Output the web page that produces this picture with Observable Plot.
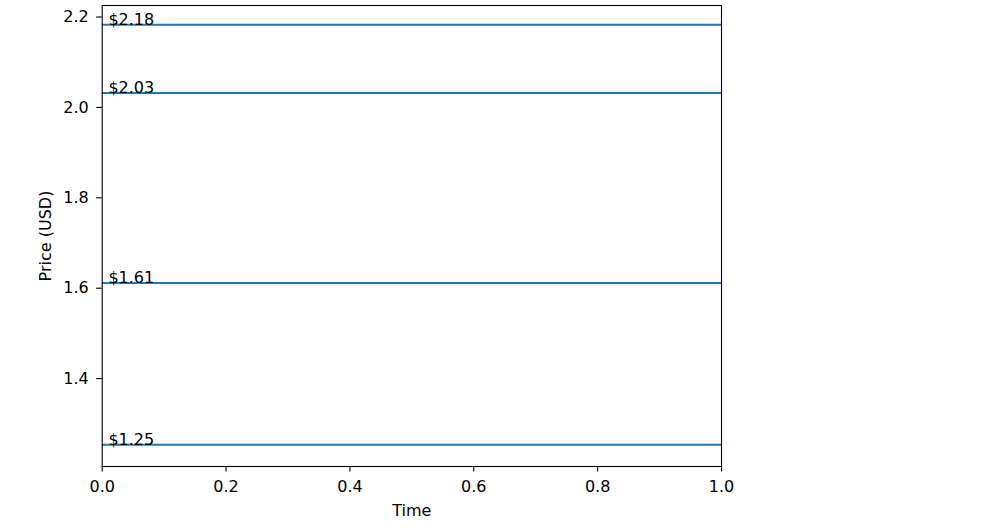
<!DOCTYPE html>
<html><head><meta charset="utf-8">
<script src="https://cdn.jsdelivr.net/npm/d3@7"></script>
<script src="https://cdn.jsdelivr.net/npm/@observablehq/plot@0.6"></script>
<style>body{margin:0;background:#fff;}</style>
</head><body><div id="chart"></div>
<script>
const prices = [2.181, 2.03, 1.61, 1.252];
const priceLabels = prices.map(p => "$" + p.toFixed(2));
const xTicks = [0, 0.2, 0.4, 0.6, 0.8, 1.0];
const yTicks = [1.4, 1.6, 1.8, 2.0, 2.2];
const xDomain = [0, 1];
const yDomain = [1.2038, 2.2237];
const xLabel = "Time";
const yLabel = "Price (USD)";
const labelX = 0.01;

const chart = Plot.plot({
  width: 1000,
  height: 531,
  marginLeft: 101.7,
  marginRight: 279,
  marginTop: 5,
  marginBottom: 65,
  style: {fontFamily: "DejaVu Sans", fontSize: "16px", background: "#fff", color: "#000", overflow: "visible"},
  x: {domain: xDomain},
  y: {domain: yDomain},
  marks: [
    Plot.ruleY(prices, {y: d => d, stroke: "#1f77b4", strokeWidth: 2}),
    Plot.text(prices, {x: labelX, y: d => d, text: (d, i) => priceLabels[i], textAnchor: "start", lineAnchor: "bottom", fill: "#000"}),
    Plot.frame({stroke: "#000", strokeWidth: 1.1}),
    Plot.axisX({ticks: xTicks, tickFormat: d => d.toFixed(1), tickSize: 5.5, tickPadding: 8.8, label: null, strokeWidth: 1.1}),
    Plot.axisY({ticks: yTicks, tickFormat: d => d.toFixed(1), tickSize: 5.5, tickPadding: 7.9, label: null, strokeWidth: 1.1, dy: 0.8}),
    Plot.text([xLabel], {frameAnchor: "bottom", dy: 49, lineAnchor: "bottom", textAnchor: "middle", text: d => d, fill: "#000"}),
    Plot.text([yLabel], {frameAnchor: "left", dx: -56.5, dy: 0, rotate: -90, lineAnchor: "middle", textAnchor: "middle", text: d => d, fill: "#000"})
  ]
});
document.getElementById("chart").appendChild(chart);
</script>
</body></html>
